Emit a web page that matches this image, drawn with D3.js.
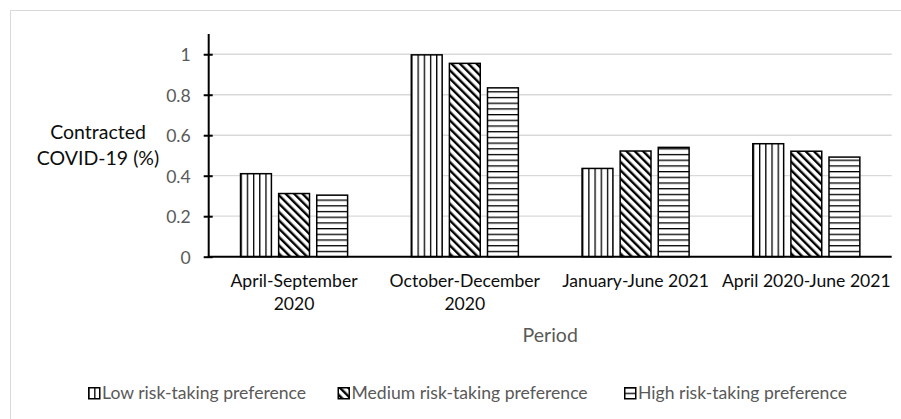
<!DOCTYPE html>
<html>
<head>
<meta charset="utf-8">
<script src="https://cdn.jsdelivr.net/npm/d3@7"></script>
<style>
  html, body { margin: 0; padding: 0; background: #fff; }
  svg { display: block; }
  text { font-family: Lato, "Noto Sans", sans-serif; }
</style>
</head>
<body>
<svg id="chart" width="901" height="419"></svg>
<script>
// Share of respondents who contracted COVID-19, by period and risk-taking preference
const periods = ["April-September 2020", "October-December 2020", "January-June 2021", "April 2020-June 2021"];
const periodLabelLines = [["April-September", "2020"], ["October-December", "2020"], ["January-June 2021"], ["April 2020-June 2021"]];
const seriesNames = ["Low risk-taking preference", "Medium risk-taking preference", "High risk-taking preference"];
const lowValues = [0.41, 0.997, 0.436, 0.558];
const mediumValues = [0.312, 0.955, 0.522, 0.521];
const highValues = [0.304, 0.834, 0.540, 0.492];
const yTicks = [0, 0.2, 0.4, 0.6, 0.8, 1];
const yMax = 1.1;
const yTitleLines = ["Contracted", "COVID-19 (%)"];
const xTitle = "Period";

const seriesValues = [lowValues, mediumValues, highValues];
const patternIds = ["pat-vertical", "pat-diagonal", "pat-horizontal"];

const svg = d3.select("#chart");
const plot = { left: 208.7, right: 891.7, top: 34, bottom: 256.7 };

// Fill patterns: vertical lines, wide downward diagonal, horizontal lines
const defs = svg.append("defs");
const pv = defs.append("pattern").attr("id", "pat-vertical")
  .attr("patternUnits", "userSpaceOnUse").attr("width", 6.2).attr("height", 6);
pv.append("rect").attr("width", 6.2).attr("height", 6).attr("fill", "#fff");
pv.append("rect").attr("x", 0).attr("width", 1.3).attr("height", 6).attr("fill", "#000");

const pd = defs.append("pattern").attr("id", "pat-diagonal")
  .attr("patternUnits", "userSpaceOnUse").attr("width", 5.9).attr("height", 6)
  .attr("patternTransform", "rotate(-45)");
pd.append("rect").attr("width", 5.9).attr("height", 6).attr("fill", "#fff");
pd.append("rect").attr("x", 0).attr("width", 2.4).attr("height", 6).attr("fill", "#000");

const ph = defs.append("pattern").attr("id", "pat-horizontal")
  .attr("patternUnits", "userSpaceOnUse").attr("width", 6).attr("height", 5.7);
ph.append("rect").attr("width", 6).attr("height", 5.7).attr("fill", "#fff");
ph.append("rect").attr("y", 0).attr("width", 6).attr("height", 1.3).attr("fill", "#000");

// Chart area frame
svg.append("rect")
  .attr("x", 10.5).attr("y", 10.5).attr("width", 905).attr("height", 420)
  .attr("fill", "none").attr("stroke", "#d9d9d9").attr("stroke-width", 1);

const x0 = d3.scaleBand().domain(periods).range([plot.left, plot.right])
  .paddingInner(0.373).paddingOuter(0.1865);
const x1 = d3.scaleBand().domain(d3.range(seriesNames.length))
  .range([0, x0.bandwidth()]).paddingInner(0.19).paddingOuter(0);
const y = d3.scaleLinear().domain([0, yMax]).range([plot.bottom, plot.top]);

// Horizontal gridlines
svg.append("g").selectAll("line").data(yTicks.filter(d => d > 0)).join("line")
  .attr("x1", plot.left).attr("x2", plot.right)
  .attr("y1", d => y(d)).attr("y2", d => y(d))
  .attr("stroke", "#d9d9d9").attr("stroke-width", 1.3);

// Bars
const groups = svg.append("g").selectAll("g").data(periods).join("g")
  .attr("transform", d => `translate(${x0(d)},0)`);
groups.selectAll("rect")
  .data((p, i) => seriesValues.map((vals, s) => ({ s, v: vals[i] })))
  .join("rect")
  .attr("x", d => x1(d.s))
  .attr("width", x1.bandwidth())
  .attr("y", d => y(d.v))
  .attr("height", d => y(0) - y(d.v))
  .attr("fill", d => `url(#${patternIds[d.s]})`)
  .attr("stroke", "#000").attr("stroke-width", 1.5);

// Y axis with crossing tick marks
const yAxis = d3.axisLeft(y).tickValues(yTicks).tickFormat(d3.format("~g"))
  .tickSizeInner(5).tickSizeOuter(0).tickPadding(13);
const gy = svg.append("g").attr("transform", `translate(${plot.left},0)`).call(yAxis);
gy.select(".domain").attr("stroke", "#000").attr("stroke-width", 2)
  .attr("d", `M0,${plot.top}V${plot.bottom}`);
gy.selectAll(".tick line").attr("stroke", "#000").attr("stroke-width", 2).attr("x1", 4);
gy.selectAll(".tick text").attr("fill", "#595959").style("font-size", "17.6px")
  .attr("dy", "0.36em");

// X axis line
svg.append("line").attr("x1", plot.left - 1).attr("x2", plot.right)
  .attr("y1", plot.bottom).attr("y2", plot.bottom)
  .attr("stroke", "#000").attr("stroke-width", 2);

// Category labels
const xl = svg.append("g").selectAll("text").data(periods).join("text")
  .attr("x", d => x0(d) + x0.bandwidth() / 2)
  .attr("y", 287)
  .attr("text-anchor", "middle").attr("fill", "#0d0d0d").style("font-size", "17.6px");
xl.selectAll("tspan").data((d, i) => periodLabelLines[i]).join("tspan")
  .attr("x", function () { return this.parentNode.getAttribute("x"); })
  .attr("dy", (d, i) => i === 0 ? 0 : 23)
  .text(d => d);

// Axis titles
svg.append("text").attr("x", (plot.left + plot.right) / 2).attr("y", 341.5)
  .attr("text-anchor", "middle").attr("fill", "#595959").style("font-size", "19.5px")
  .text(xTitle);
svg.append("g").selectAll("text").data(yTitleLines).join("text")
  .attr("x", 98).attr("y", (d, i) => 139 + i * 26)
  .attr("text-anchor", "middle").attr("fill", "#0d0d0d").style("font-size", "19.5px")
  .text(d => d);

// Legend
const legendX = [88, 337.5, 624];
const legend = svg.append("g").selectAll("g").data(seriesNames).join("g")
  .attr("transform", (d, i) => `translate(${legendX[i]},387)`);
legend.append("rect").attr("x", 0.75).attr("y", 0.75).attr("width", 11).attr("height", 11)
  .attr("fill", (d, i) => `url(#${patternIds[i]})`)
  .attr("stroke", "#000").attr("stroke-width", 1.5);
legend.append("text").attr("x", 14).attr("y", 12)
  .attr("fill", "#595959").style("font-size", "17.6px")
  .text(d => d);
</script>
</body>
</html>
